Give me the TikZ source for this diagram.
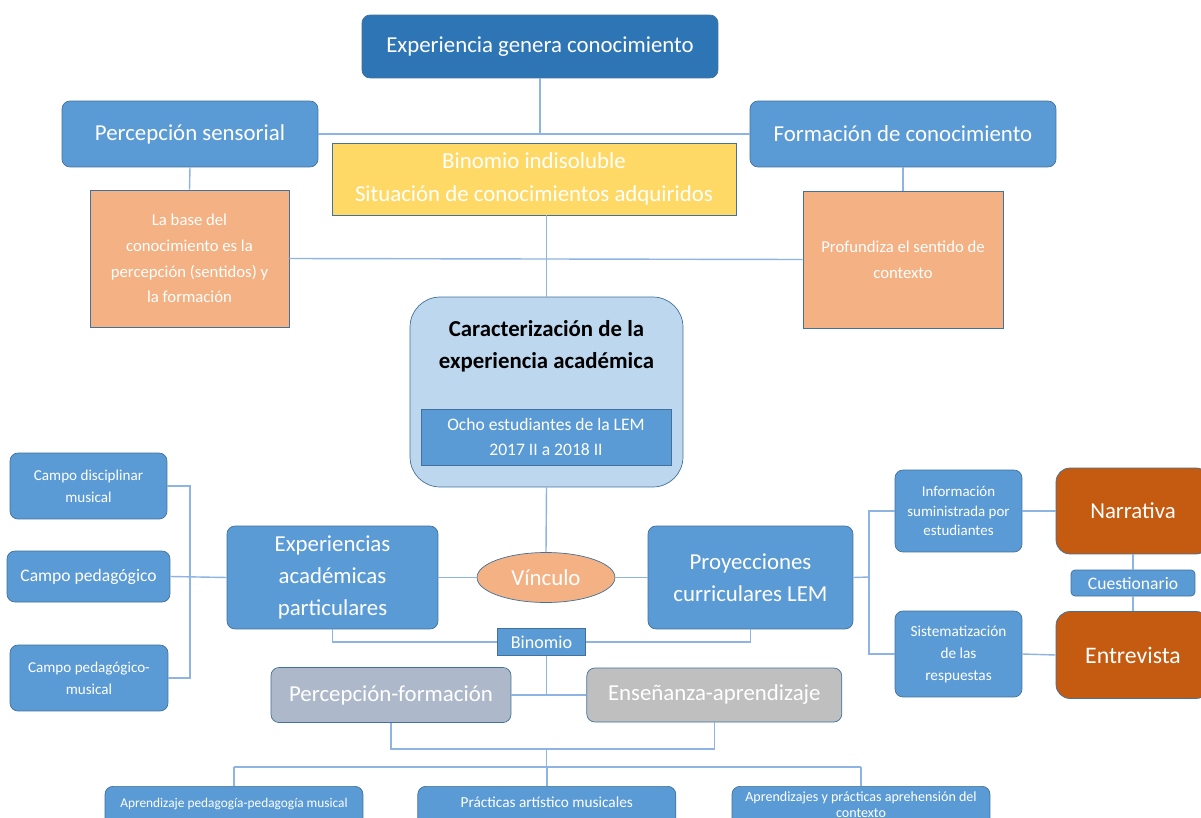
\documentclass[tikz,border=0pt]{standalone}
\usepackage{fontspec}
\setmainfont{Carlito}
\usetikzlibrary{shapes.geometric}
\definecolor{darkblue}{RGB}{46,117,182}
\definecolor{midblue}{RGB}{91,155,213}
\definecolor{paleblue}{RGB}{189,215,238}
\definecolor{edgecol}{RGB}{65,113,156}
\definecolor{linecol}{RGB}{141,180,226}
\definecolor{goldbox}{RGB}{255,217,102}
\definecolor{peach}{RGB}{244,177,131}
\definecolor{rust}{RGB}{197,90,17}
\definecolor{slate}{RGB}{173,185,202}
\definecolor{greybox}{RGB}{191,191,191}

\begin{document}
\begin{tikzpicture}[x=0.02cm, y=-0.02cm,
  line/.style={draw=linecol, line width=0.8pt},
  bluebox/.style={draw=edgecol, fill=midblue, rounded corners=0.16cm, text=white, align=center, inner sep=0pt},
  flatbox/.style={draw=edgecol, text=white, align=center, inner sep=0pt},
  big/.style={font=\fontsize{13}{18}\selectfont}]
\clip (0,0) rectangle (1201,818);
\fill[white] (0,0) rectangle (1201,818);

\node[bluebox, fill=darkblue, big, minimum width=7.12cm, minimum height=1.26cm] (top) at (540,46.5) {Experiencia genera conocimiento};
\node[bluebox, big, minimum width=5.12cm, minimum height=1.32cm] (percep) at (190,134) {Percepción sensorial};
\node[bluebox, big, minimum width=6.12cm, minimum height=1.32cm] (formacion) at (903,134) {Formación de conocimiento};
\node[flatbox, fill=goldbox, font=\fontsize{13}{18.7}\selectfont, minimum width=8.08cm, minimum height=1.44cm] (yellow) at (534,179) {Binomio indisoluble\\Situación de conocimientos adquiridos};
\node[flatbox, fill=peach, font=\fontsize{9.5}{14.7}\selectfont, minimum width=3.98cm, minimum height=2.74cm] (oleft) at (189.5,258.5) {La base del\\conocimiento es la\\percepción (sentidos) y\\la formación};
\node[flatbox, fill=peach, font=\fontsize{9.5}{14.7}\selectfont, minimum width=4cm, minimum height=2.74cm] (oright) at (903,259.5) {Profundiza el sentido de\\contexto};

\node[draw=edgecol, fill=paleblue, rounded corners=0.6cm, minimum width=5.46cm, minimum height=3.8cm] (caract) at (546.5,392) {};
\node[align=center, font=\fontsize{13}{18}\selectfont\bfseries] (caracttitle) at (546.5,346) {Caracterización de la\\experiencia académica};
\node[flatbox, fill=midblue, font=\fontsize{10}{14.7}\selectfont, minimum width=5cm, minimum height=1.12cm] (ocho) at (546,437) {Ocho estudiantes de la LEM\\2017 II a 2018 II};

\node[bluebox, font=\fontsize{8.6}{12.5}\selectfont, minimum width=3.14cm, minimum height=1.32cm] (campodis) at (88.5,486) {Campo disciplinar\\musical};
\node[bluebox, font=\fontsize{10}{12.5}\selectfont, minimum width=3.26cm, minimum height=1.02cm] (campoped) at (88.5,576.5) {Campo pedagógico};
\node[bluebox, font=\fontsize{8.6}{12.5}\selectfont, minimum width=3.16cm, minimum height=1.32cm] (campomus) at (89,678) {Campo pedagógico-\\musical};
\node[bluebox, big, minimum width=4.22cm, minimum height=2.06cm] (experiencias) at (332.5,577.5) {Experiencias\\académicas\\particulares};
\node[ellipse, draw=edgecol, fill=peach, text=white, big, minimum width=2.76cm, minimum height=1cm, inner sep=0pt] (vinculo) at (546,577.5) {Vínculo};
\node[bluebox, big, minimum width=4.1cm, minimum height=2.06cm] (proyecciones) at (750.5,577.5) {Proyecciones\\curriculares LEM};

\node[bluebox, font=\fontsize{8.5}{11.3}\selectfont, minimum width=2.54cm, minimum height=1.64cm] (info) at (958.5,511) {Información\\suministrada por\\estudiantes};
\node[bluebox, font=\fontsize{8.7}{12.5}\selectfont, minimum width=2.54cm, minimum height=1.72cm] (sist) at (958.5,654) {Sistematización\\de las\\respuestas};
\node[bluebox, fill=rust, rounded corners=0.28cm, big, minimum width=3.08cm, minimum height=1.72cm] (narrativa) at (1133,511) {Narrativa};
\node[bluebox, fill=rust, rounded corners=0.28cm, font=\fontsize{13.5}{18}\selectfont, minimum width=3.08cm, minimum height=1.74cm] (entrevista) at (1133,655) {Entrevista};
\node[bluebox, rounded corners=0.08cm, font=\fontsize{10}{12}\selectfont, minimum width=2.48cm, minimum height=0.52cm] (cuestionario) at (1133,583) {Cuestionario};

\node[flatbox, fill=midblue, font=\fontsize{10.3}{12}\selectfont, minimum width=1.76cm, minimum height=0.54cm] (binomio) at (541.5,642) {Binomio};
\node[bluebox, fill=slate, big, minimum width=4.8cm, minimum height=1.1cm] (percform) at (391,695) {Percepción-formación};
\node[bluebox, fill=greybox, big, minimum width=5.1cm, minimum height=1.08cm] (ensenanza) at (714.3,695) {Enseñanza-aprendizaje};

\node[bluebox, anchor=north, font=\fontsize{7.6}{9}\selectfont, minimum width=5.16cm, inner ysep=0.1cm, text height=0.33cm, text depth=1cm] (aprend) at (234,786) {Aprendizaje pedagogía-pedagogía musical};
\node[bluebox, anchor=north, font=\fontsize{8.7}{9}\selectfont, minimum width=5.16cm, inner ysep=0.1cm, text height=0.33cm, text depth=1cm] (practicas) at (546.8,786) {Prácticas artístico musicales};
\node[bluebox, anchor=north, font=\fontsize{8}{9}\selectfont, minimum width=5.16cm, inner ysep=0.1cm, text height=0.52cm, text depth=1cm] (contexto) at (861,786) {Aprendizajes y prácticas aprehensión del\\contexto};

\coordinate (campojoin) at (190,577);
\coordinate (proyjoin) at (869,577);
\coordinate (pejoin) at (546.7,749);
\coordinate (bottomjoin) at (546.7,767);

\draw[line] (percep.east) -- (formacion.west);
\draw[line] (top.south) -- (top.south |- percep.east);
\draw[line] (percep.south) -- (oleft.north);
\draw[line] (formacion.south) -- (oright.north);
\draw[line] (oleft.east) -- (oright.west);
\draw[line] (caract.north |- yellow.south) -- (caract.north);
\draw[line] (caract.south) -- (vinculo.north);
\draw[line] (experiencias.east) -- (vinculo.west);
\draw[line] (vinculo.east) -- (proyecciones.west);
\draw[line] (campodis.east) -| (campojoin) |- (campomus.east);
\draw[line] (campoped.east) -- (experiencias.west);
\draw[line] (proyecciones.east) -- (proyjoin);
\draw[line] (info.west) -| (proyjoin) |- (sist.west);
\draw[line] (info.east) -- (narrativa.west);
\draw[line] (sist.east) -- (entrevista.west);
\draw[line] (narrativa.south) -- (cuestionario.north);
\draw[line] (cuestionario.south) -- (entrevista.north);
\draw[line] (experiencias.south) |- (binomio.west);
\draw[line] (proyecciones.south) |- (binomio.east);
\draw[line] (percform.east) -- (ensenanza.west);
\draw[line] (binomio.south -| pejoin) -- (pejoin |- percform.east);
\draw[line] (percform.south) |- (pejoin) -| (ensenanza.south);
\draw[line] (pejoin) -- (bottomjoin);
\draw[line] (bottomjoin -| aprend.north) -- (bottomjoin -| contexto.north);
\foreach \b in {aprend,practicas,contexto}{
  \draw[line] (bottomjoin -| \b.north) -- (\b.north);
}
\end{tikzpicture}
\end{document}
